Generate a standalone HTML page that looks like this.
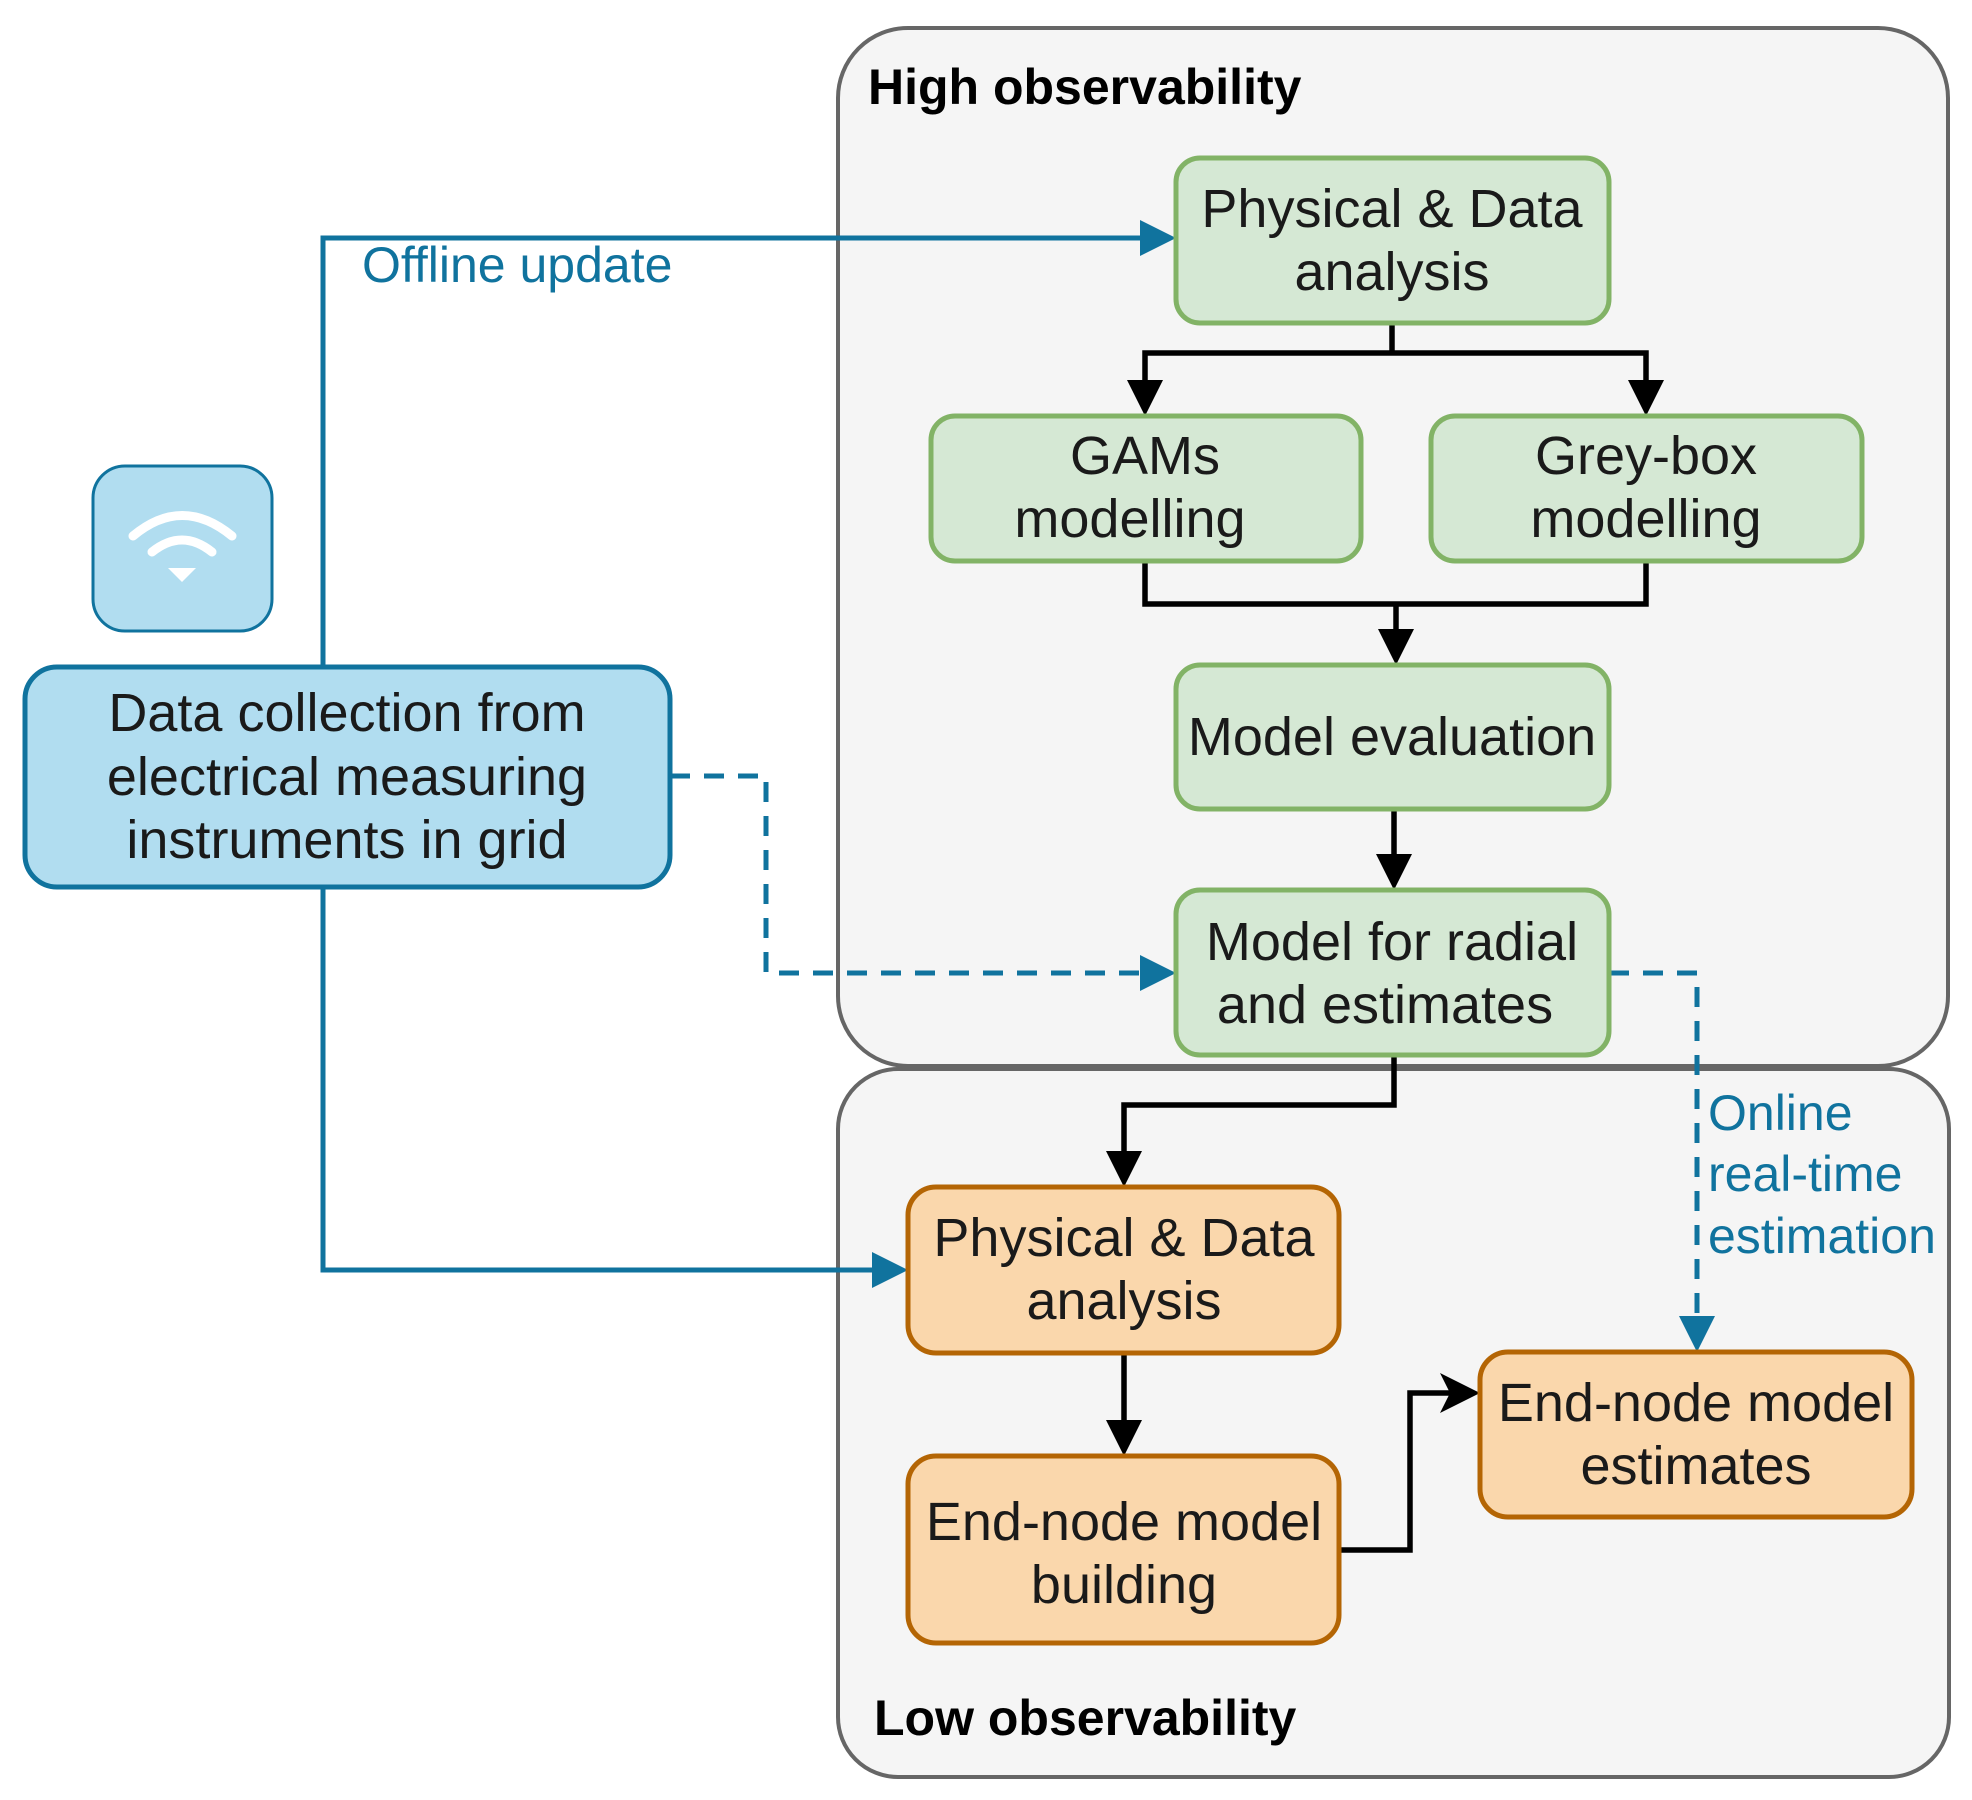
<!DOCTYPE html>
<html><head><meta charset="utf-8"><style>
html,body{margin:0;padding:0;background:#fff}
svg{display:block}
text{font-family:"Liberation Sans",Arial,sans-serif}
</style></head><body>
<svg width="1972" height="1800" viewBox="0 0 1972 1800" xmlns="http://www.w3.org/2000/svg">
<!-- containers -->
<rect x="838" y="28" width="1110" height="1038" rx="70" fill="#f5f5f5" stroke="#666" stroke-width="4"/>
<rect x="838" y="1069" width="1111" height="708" rx="60" fill="#f5f5f5" stroke="#666" stroke-width="4"/>
<text x="868" y="104" font-size="50" font-weight="bold" fill="#000">High observability</text>
<text x="874" y="1735" font-size="50" font-weight="bold" fill="#000">Low observability</text>

<!-- blue connectors -->
<g fill="none" stroke="#10739e" stroke-width="5">
<polyline points="323,667 323,238 1150,238"/>
<polyline points="323,887 323,1270 882,1270"/>
<polyline points="670,776 766,776 766,973 1150,973" stroke-dasharray="20,14"/>
<polyline points="1609,973 1697,973 1697,1326" stroke-dasharray="20,14"/>
</g>
<g fill="#10739e">
<polygon points="1176,238 1140,220 1140,256"/>
<polygon points="908,1270 872,1252 872,1288"/>
<polygon points="1176,973 1140,955 1140,991"/>
<polygon points="1697,1352 1679,1316 1715,1316"/>
</g>
<text x="362" y="282" font-size="50" fill="#10739e">Offline update</text>
<text font-size="50" fill="#10739e"><tspan x="1708" y="1130">Online</tspan><tspan x="1708" y="1191">real-time</tspan><tspan x="1708" y="1253">estimation</tspan></text>

<!-- black connectors -->
<g fill="none" stroke="#000" stroke-width="5.5">
<polyline points="1392,323 1392,353"/>
<polyline points="1145,390 1145,353 1646,353 1646,390"/>
<polyline points="1145,561 1145,604 1646,604 1646,561"/>
<polyline points="1396,604 1396,640"/>
<polyline points="1394,809 1394,865"/>
<polyline points="1394,1055 1394,1105 1124,1105 1124,1160"/>
<polyline points="1124,1353 1124,1430"/>
<polyline points="1339,1550 1410,1550 1410,1393 1455,1393"/>
</g>
<g fill="#000">
<polygon points="1145,416 1127,380 1163,380"/>
<polygon points="1646,416 1628,380 1664,380"/>
<polygon points="1396,665 1378,629 1414,629"/>
<polygon points="1394,890 1376,854 1412,854"/>
<polygon points="1124,1187 1106,1151 1142,1151"/>
<polygon points="1124,1456 1106,1420 1142,1420"/>
<polygon points="1480,1393 1440,1373 1450,1393 1440,1413"/>
</g>

<!-- wifi -->
<rect x="93" y="466" width="179" height="165" rx="32" fill="#b1ddf0" stroke="#10739e" stroke-width="3"/>
<g fill="none" stroke="#fff" stroke-width="9" stroke-linecap="round">
<path d="M133,536 Q182,495 232,536"/>
<path d="M152,552 Q182,528 212,552"/>
</g>
<polygon points="168,568 196,568 182,582" fill="#fff"/>

<!-- blue box -->
<rect x="25" y="667" width="645" height="220" rx="32" fill="#b1ddf0" stroke="#10739e" stroke-width="5"/>
<g font-size="54" fill="#1a1a1a" text-anchor="middle">
<text x="347" y="731">Data collection from</text>
<text x="347" y="795">electrical measuring</text>
<text x="347" y="858">instruments in grid</text>
</g>

<!-- green boxes -->
<g fill="#d5e8d4" stroke="#82b366" stroke-width="5">
<rect x="1176" y="158" width="433" height="165" rx="24"/>
<rect x="931" y="416" width="430" height="145" rx="24"/>
<rect x="1431" y="416" width="431" height="145" rx="24"/>
<rect x="1176" y="665" width="433" height="144" rx="24"/>
<rect x="1176" y="890" width="433" height="165" rx="24"/>
</g>
<!-- orange boxes -->
<g fill="#fad7ac" stroke="#b46504" stroke-width="5">
<rect x="908" y="1187" width="431" height="166" rx="28"/>
<rect x="908" y="1456" width="431" height="187" rx="28"/>
<rect x="1480" y="1352" width="432" height="165" rx="28"/>
</g>
<g font-size="54" fill="#1a1a1a" text-anchor="middle">
<text x="1392" y="227">Physical &amp; Data</text>
<text x="1392" y="290">analysis</text>
<text x="1145" y="474">GAMs</text>
<text x="1130" y="537">modelling</text>
<text x="1646" y="474">Grey-box</text>
<text x="1646" y="537">modelling</text>
<text x="1392" y="755">Model evaluation</text>
<text x="1392" y="960">Model for radial</text>
<text x="1385" y="1023">and estimates</text>
<text x="1124" y="1256">Physical &amp; Data</text>
<text x="1124" y="1319">analysis</text>
<text x="1124" y="1540">End-node model</text>
<text x="1124" y="1603">building</text>
<text x="1696" y="1421">End-node model</text>
<text x="1696" y="1484">estimates</text>
</g>
</svg>
</body></html>
